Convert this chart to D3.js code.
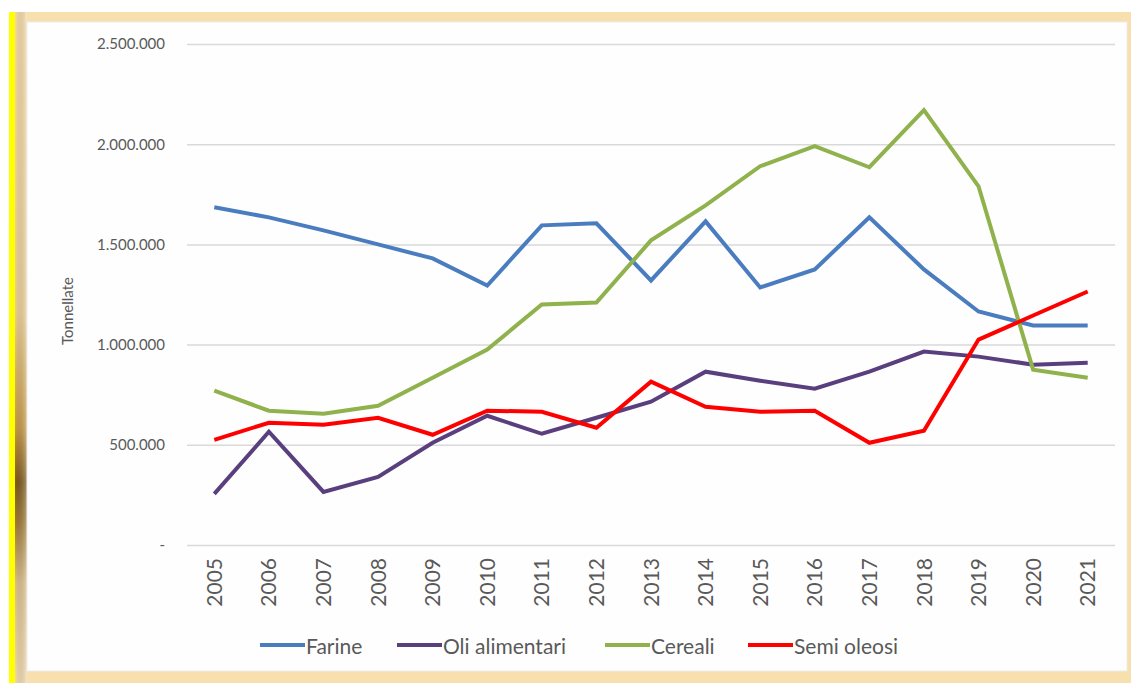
<!DOCTYPE html>
<html><head><meta charset="utf-8">
<script src="https://cdn.jsdelivr.net/npm/d3@7"></script>
<style>html,body{margin:0;padding:0;background:#fff;}svg{display:block;}</style>
</head><body>
<script>
const years = ["2005","2006","2007","2008","2009","2010","2011","2012","2013","2014","2015","2016","2017","2018","2019","2020","2021"];
const farine = [1685000,1635000,1570000,1500000,1430000,1295000,1595000,1605000,1320000,1615000,1285000,1375000,1635000,1375000,1165000,1095000,1095000];
const oliAlimentari = [255000,565000,265000,340000,510000,645000,555000,635000,715000,865000,820000,780000,865000,965000,940000,900000,910000];
const cereali = [770000,670000,655000,695000,835000,975000,1200000,1210000,1520000,1695000,1890000,1990000,1885000,2170000,1790000,875000,835000];
const semiOleosi = [525000,610000,600000,635000,550000,670000,665000,585000,815000,690000,665000,670000,510000,570000,1025000,1145000,1265000];
const yTicks = [0,500000,1000000,1500000,2000000,2500000];
const seriesNames = ["Farine","Oli alimentari","Cereali","Semi oleosi"];
const seriesColors = ["#4a7dbf","#5a3f7e","#8fb24c","#ff0000"];
const seriesData = [farine, oliAlimentari, cereali, semiOleosi];

const W = 1131, H = 683;
const FONT = "Lato, 'Open Sans', sans-serif";
const svg = d3.select("body").append("svg").attr("width", W).attr("height", H);
const defs = svg.append("defs");
const lg = defs.append("linearGradient").attr("id","leftG").attr("x1",0).attr("y1",0).attr("x2",0).attr("y2",1);
[["0%","#f6dba6"],["45%","#eccf94"],["62%","#c89a45"],["70%","#7e5a1e"],["76%","#a07a36"],["85%","#dcc08a"],["100%","#f2dcaf"]]
  .forEach(s => lg.append("stop").attr("offset", s[0]).attr("stop-color", s[1]));
const lh = defs.append("linearGradient").attr("id","leftH").attr("x1",0).attr("y1",0).attr("x2",1).attr("y2",0);
lh.append("stop").attr("offset","0%").attr("stop-color","#000").attr("stop-opacity",0);
lh.append("stop").attr("offset","100%").attr("stop-color","#fff").attr("stop-opacity",0.35);

// frame
svg.append("rect").attr("x",15).attr("y",12).attr("width",W-15).attr("height",H-12).attr("fill","#f7dfae");
svg.append("rect").attr("x",15).attr("y",12).attr("width",12).attr("height",H-12).attr("fill","url(#leftG)");
svg.append("rect").attr("x",15).attr("y",12).attr("width",12).attr("height",H-12).attr("fill","url(#leftH)");
svg.append("rect").attr("x",9).attr("y",12).attr("width",6).attr("height",H-12).attr("fill","#ffff00");
svg.append("rect").attr("x",27).attr("y",22).attr("width",1100).attr("height",649).attr("fill","#fefefe").attr("stroke","#ececec").attr("stroke-width",1);

const margin = {left:187, right:1115, top:44, bottom:545};
const x = d3.scaleBand().domain(years).range([margin.left, margin.right]);
const y = d3.scaleLinear().domain([0,2500000]).range([margin.bottom, margin.top]);
const fmt = v => v === 0 ? "-" : d3.format(",")(v).replace(/,/g, ".");

// gridlines
const yAxis = d3.axisLeft(y).tickValues(yTicks).tickFormat(fmt).tickSize(-(margin.right-margin.left)).tickPadding(22);
const gy = svg.append("g").attr("transform", `translate(${margin.left},0)`).call(yAxis);
gy.select(".domain").remove();
gy.selectAll(".tick line").attr("stroke","#d9d9d9").attr("stroke-width",1.5);
gy.selectAll(".tick text").attr("fill","#595959").attr("font-family",FONT).attr("font-size",15);

// x axis labels
const xAxis = d3.axisBottom(x).tickSize(0).tickPadding(0);
const gx = svg.append("g").attr("transform", `translate(0,${margin.bottom})`).call(xAxis);
gx.select(".domain").remove();
gx.selectAll(".tick text")
  .attr("transform","rotate(-90)")
  .attr("text-anchor","end")
  .attr("x",-13).attr("y",0).attr("dy","0.36em")
  .attr("fill","#595959").attr("font-family",FONT).attr("font-size",21);

// y title
svg.append("text").attr("transform","translate(73,311) rotate(-90)").attr("text-anchor","middle")
  .attr("fill","#595959").attr("font-family",FONT).attr("font-size",15).text("Tonnellate");

// lines
const line = d3.line().x((d,i) => x(years[i]) + x.bandwidth()/2).y(d => y(d));
seriesData.forEach((s,k) => {
  svg.append("path").datum(s).attr("d", line).attr("fill","none")
    .attr("stroke", seriesColors[k]).attr("stroke-width",4).attr("stroke-linejoin","miter").attr("stroke-linecap","butt");
});

// legend
const legendX = [260, 397, 605, 748];
const lgd = svg.append("g");
seriesNames.forEach((n,k) => {
  const g = lgd.append("g").attr("transform", `translate(${legendX[k]},645)`);
  g.append("line").attr("x1",0).attr("x2",45).attr("y1",0).attr("y2",0).attr("stroke",seriesColors[k]).attr("stroke-width",4);
  g.append("text").attr("x",46).attr("y",0).attr("dominant-baseline","central").attr("fill","#595959")
    .attr("font-family",FONT).attr("font-size",21).text(n);
});
</script>
</body></html>
